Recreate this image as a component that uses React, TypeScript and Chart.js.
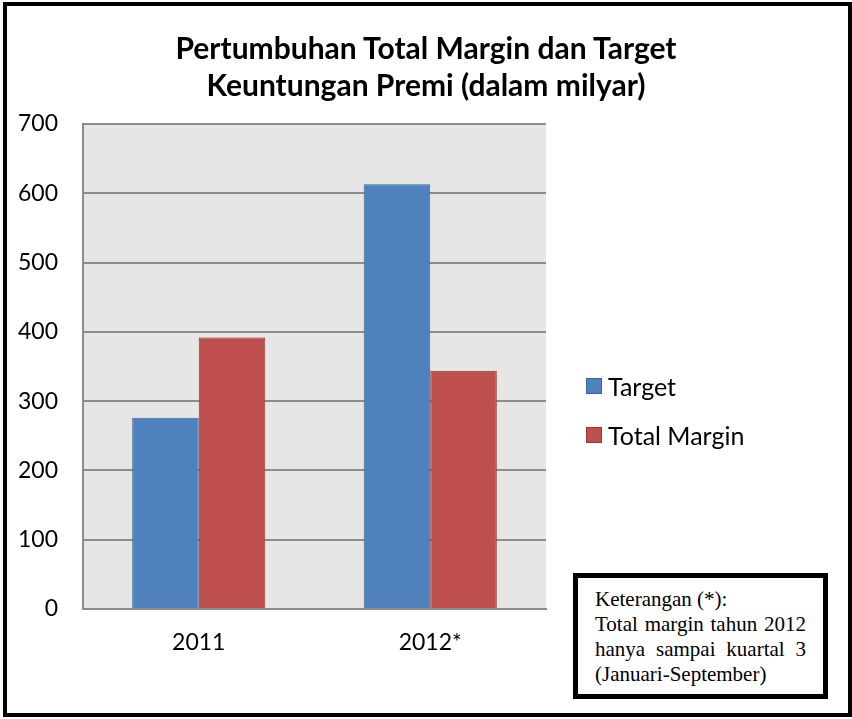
import React, { useEffect, useRef } from "react";
import { Chart, registerables } from "chart.js";

Chart.register(...registerables);

const titleLines = ["Pertumbuhan Total Margin dan Target", "Keuntungan Premi (dalam milyar)"];
const categories = ["2011", "2012*"];
const seriesNames = ["Target", "Total Margin"];
const targetValues = [276, 613];
const marginValues = [392, 344];
const yMin = 0;
const yMax = 700;
const yStep = 100;
const noteLines = ["Keterangan (*):", "Total margin tahun 2012", "hanya sampai kuartal 3", "(Januari-September)"];

const seriesColors = ["#4F81BD", "#C0504D"];
const seriesBorders = ["#3B6696", "#953735"];

const plotBg = {
  id: "plotBg",
  beforeDraw(chart: any) {
    const { ctx, chartArea } = chart;
    if (!chartArea) return;
    ctx.save();
    ctx.fillStyle = "#E6E6E6";
    ctx.fillRect(chartArea.left, chartArea.top, chartArea.right - chartArea.left, chartArea.bottom - chartArea.top);
    ctx.restore();
  },
};

export default function App() {
  const ref = useRef<HTMLCanvasElement | null>(null);

  useEffect(() => {
    document.body.style.margin = "0";
    const canvas = ref.current;
    if (!canvas) return;
    const chart = new Chart(canvas, {
      type: "bar",
      data: {
        labels: categories,
        datasets: [
          {
            label: seriesNames[0],
            data: targetValues,
            backgroundColor: seriesColors[0],
            borderColor: seriesBorders[0],
            borderWidth: 1,
          },
          {
            label: seriesNames[1],
            data: marginValues,
            backgroundColor: seriesColors[1],
            borderColor: seriesBorders[1],
            borderWidth: 1,
          },
        ],
      },
      options: {
        responsive: false,
        animation: false,
        devicePixelRatio: 1,
        layout: { padding: { left: 0, right: 306, top: 124, bottom: 60 } },
        datasets: { bar: { categoryPercentage: 0.575, barPercentage: 1 } },
        plugins: {
          legend: { display: false },
          title: { display: false },
          tooltip: { enabled: false },
        },
        scales: {
          x: {
            grid: { display: false, drawTicks: false },
            border: { display: true, color: "#8C8C8C", width: 2 },
            ticks: {
              color: "#000000",
              padding: 20,
              font: { family: "Lato", size: 23 },
            },
            afterFit(s: any) {
              s.height = 50;
            },
          },
          y: {
            min: yMin,
            max: yMax,
            ticks: {
              stepSize: yStep,
              color: "#000000",
              padding: 25,
              font: { family: "Lato", size: 23 },
            },
            grid: { color: "#8C8C8C", lineWidth: 2, drawTicks: false },
            border: { display: true, color: "#8C8C8C", width: 2 },
            afterFit(s: any) {
              s.width = 83;
            },
          },
        },
      },
      plugins: [plotBg],
    });
    return () => chart.destroy();
  }, []);

  return (
    <div style={{ position: "fixed", left: 0, top: 0, width: 852, height: 719, background: "#FFFFFF", overflow: "hidden" }}>
      <canvas ref={ref} width={852} height={719} style={{ position: "absolute", left: 0, top: 0, width: 852, height: 719 }} />
      <div
        style={{
          position: "absolute",
          left: 3,
          top: 2,
          width: 849,
          height: 715,
          border: "4px solid #000",
          boxSizing: "border-box",
          pointerEvents: "none",
        }}
      />
      <div
        style={{
          position: "absolute",
          left: 0,
          top: 29,
          width: 852,
          textAlign: "center",
          fontFamily: "Lato",
          fontWeight: 700,
          fontSize: 30,
          lineHeight: "37px",
          color: "#000",
        }}
      >
        {titleLines.map((t, i) => (
          <div key={i}>{t}</div>
        ))}
      </div>
      <div style={{ position: "absolute", left: 586, top: 361, fontFamily: "Lato", fontSize: 25, color: "#000" }}>
        {seriesNames.map((n, i) => (
          <div key={i} style={{ display: "flex", alignItems: "center", height: 49 }}>
            <span
              style={{
                display: "inline-block",
                width: 14,
                height: 14,
                background: seriesColors[i],
                border: `1px solid ${seriesBorders[i]}`,
                marginRight: 6,
              }}
            />
            <span>{n}</span>
          </div>
        ))}
      </div>
      <div
        style={{
          position: "absolute",
          left: 573,
          top: 573,
          width: 255,
          height: 126,
          border: "5px solid #000",
          boxSizing: "border-box",
          padding: "9px 17px 0 17px",
          fontFamily: "'Liberation Serif', 'Times New Roman', serif",
          fontSize: 21,
          lineHeight: "25px",
          color: "#000",
          background: "#fff",
        }}
      >
        {noteLines.map((t, i) => (
          <div
            key={i}
            style={{
              textAlign: "justify",
              textAlignLast: i === 1 || i === 2 ? "justify" : "left",
              whiteSpace: "nowrap",
            }}
          >
            {t}
          </div>
        ))}
      </div>
    </div>
  );
}
